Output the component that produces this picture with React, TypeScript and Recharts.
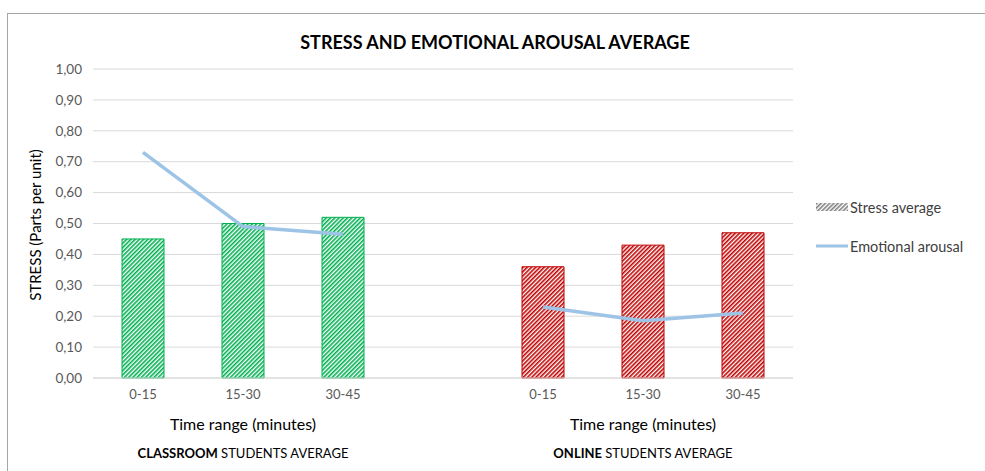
import React from "react";
import { Bar, Cell, ComposedChart, CartesianGrid, Line, XAxis, YAxis } from "recharts";

const categories = ["0-15", "15-30", "30-45", "", "0-15", "15-30", "30-45"];
const stressAverage = [0.45, 0.5, 0.52, null, 0.36, 0.43, 0.47];
const emotionalArousal = [0.73, 0.49, 0.465, null, 0.23, 0.185, 0.21];
const groups = ["classroom", "classroom", "classroom", "", "online", "online", "online"];
const yTicks = [0, 0.1, 0.2, 0.3, 0.4, 0.5, 0.6, 0.7, 0.8, 0.9, 1.0];

const data = categories.map((c, i) => ({
  slot: i,
  label: c,
  stress: stressAverage[i],
  arousal: emotionalArousal[i],
  group: groups[i],
}));

const font = "Lato, 'Open Sans', sans-serif";

function LegendBox() {
  return (
    <div style={{ position: "absolute", left: 816, top: 197, fontSize: 14.5, color: "#404040" }}>
      <div style={{ display: "flex", alignItems: "center", height: 20, marginBottom: 19 }}>
        <svg width={32} height={8} style={{ marginRight: 2 }}>
          <rect x={0} y={0} width={32} height={8} fill="url(#hatchGray)" />
        </svg>
        Stress average
      </div>
      <div style={{ display: "flex", alignItems: "center", height: 20 }}>
        <svg width={32} height={8} style={{ marginRight: 2 }}>
          <line x1={0} y1={4} x2={32} y2={4} stroke="#9dc3e6" strokeWidth={3} />
        </svg>
        Emotional arousal
      </div>
    </div>
  );
}

export default function App() {
  return (
    <div style={{ position: "absolute", left: 0, top: 0, width: 985, height: 471, background: "#fff", fontFamily: font }}>
      {/* chart frame: only top and left edges are inside the picture */}
      <div style={{ position: "absolute", left: 7, top: 13, width: 978, height: 458, borderTop: "1px solid #a6a6a6", borderLeft: "1px solid #a6a6a6" }} />
      <div style={{ position: "absolute", left: 0, width: 990, top: 31, textAlign: "center", fontWeight: 700, fontSize: 18, color: "#000" }}>
        STRESS AND EMOTIONAL AROUSAL AVERAGE
      </div>
      <div
        style={{
          position: "absolute",
          left: 35,
          top: 225,
          transform: "translate(-50%, -50%) rotate(-90deg)",
          whiteSpace: "nowrap",
          fontSize: 15,
          color: "#000",
        }}
      >
        STRESS (Parts per unit)
      </div>
      <ComposedChart width={985} height={471} data={data} margin={{ top: 69, right: 192, bottom: 63, left: 0 }}>
        <defs>
          <pattern id="hatchGreen" width={3} height={3} patternUnits="userSpaceOnUse" patternTransform="rotate(45)">
            <rect width={3} height={3} fill="#ffffff" />
            <rect width={1.6} height={3} fill="#00b050" />
          </pattern>
          <pattern id="hatchRed" width={3} height={3} patternUnits="userSpaceOnUse" patternTransform="rotate(45)">
            <rect width={3} height={3} fill="#ffffff" />
            <rect width={1.6} height={3} fill="#c00000" />
          </pattern>
          <pattern id="hatchGray" width={3} height={3} patternUnits="userSpaceOnUse" patternTransform="rotate(45)">
            <rect width={3} height={3} fill="#ffffff" />
            <rect width={1.6} height={3} fill="#7f7f7f" />
          </pattern>
        </defs>
        <CartesianGrid vertical={false} stroke="#d9d9d9" strokeWidth={1} />
        <XAxis
          dataKey="slot"
          type="category"
          tickFormatter={(v: number) => categories[v]}
          tick={{ fill: "#595959", fontSize: 13, fontFamily: font }}
          tickLine={false}
          axisLine={{ stroke: "#d9d9d9" }}
          tickMargin={6}
        />
        <YAxis
          domain={[0, 1]}
          ticks={yTicks}
          width={93}
          tickFormatter={(v: number) => v.toFixed(2).replace(".", ",")}
          tick={{ fill: "#595959", fontSize: 13.5, fontFamily: font }}
          axisLine={false}
          tickLine={false}
          tickMargin={5}
        />
        <Bar dataKey="stress" barSize={42} isAnimationActive={false} strokeWidth={1}>
          {data.map((d, i) => (
            <Cell
              key={i}
              fill={d.group === "classroom" ? "url(#hatchGreen)" : "url(#hatchRed)"}
              stroke={d.group === "classroom" ? "#00b050" : "#c00000"}
            />
          ))}
        </Bar>
        <Line
          dataKey="arousal"
          type="linear"
          stroke="#9dc3e6"
          strokeWidth={3.5}
          strokeLinejoin="round"
          dot={false}
          connectNulls={false}
          isAnimationActive={false}
        />
      </ComposedChart>
      <LegendBox />
      <div style={{ position: "absolute", left: 93, width: 300, top: 414, textAlign: "center", fontSize: 16, color: "#000" }}>
        Time range (minutes)
      </div>
      <div style={{ position: "absolute", left: 493, width: 300, top: 414, textAlign: "center", fontSize: 16, color: "#000" }}>
        Time range (minutes)
      </div>
      <div style={{ position: "absolute", left: 93, width: 300, top: 445, textAlign: "center", fontSize: 13, color: "#000" }}>
        <b>CLASSROOM</b> STUDENTS AVERAGE
      </div>
      <div style={{ position: "absolute", left: 493, width: 300, top: 445, textAlign: "center", fontSize: 13, color: "#000" }}>
        <b>ONLINE</b> STUDENTS AVERAGE
      </div>
    </div>
  );
}
